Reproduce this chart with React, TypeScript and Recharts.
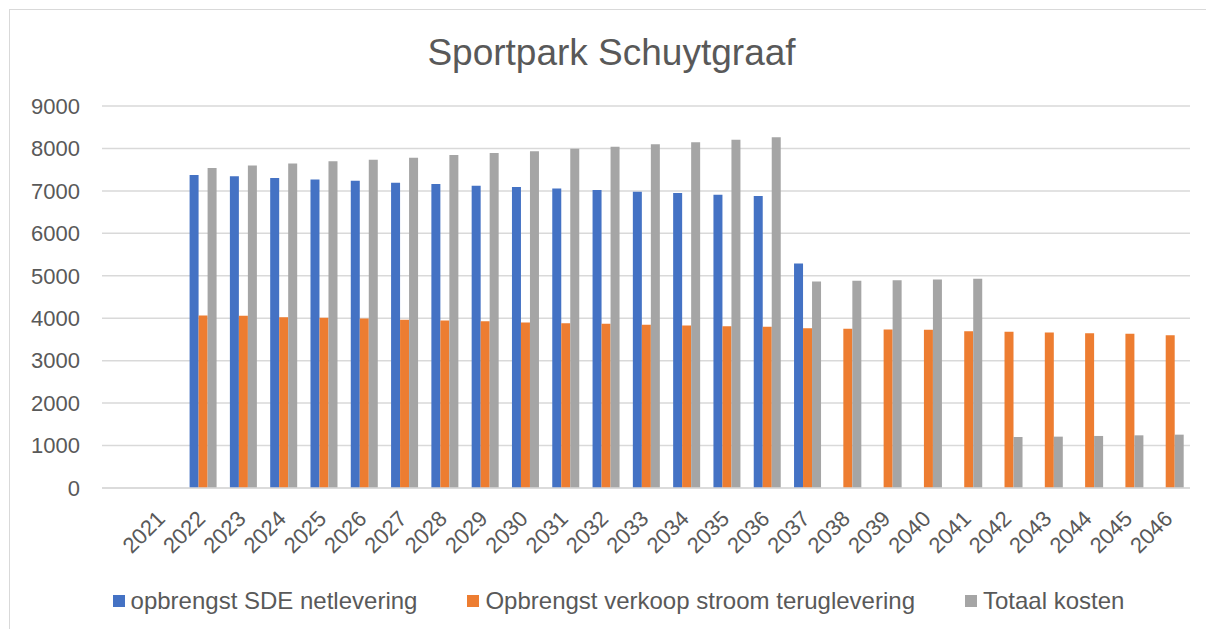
import React from "react";
import { BarChart, Bar, XAxis, YAxis, CartesianGrid, Legend } from "recharts";

const categories: string[] = ["", "2021", "2022", "2023", "2024", "2025", "2026", "2027", "2028", "2029", "2030", "2031", "2032", "2033", "2034", "2035", "2036", "2037", "2038", "2039", "2040", "2041", "2042", "2043", "2044", "2045", "2046"];

const sdeNetlevering: (number | null)[] = [null, 0, 7372, 7342, 7302, 7271, 7240, 7193, 7160, 7123, 7090, 7059, 7019, 6981, 6949, 6910, 6878, 5290, 0, 0, 0, 0, 0, 0, 0, 0, 0];
const verkoopStroom: (number | null)[] = [null, 0, 4064, 4056, 4024, 4009, 3993, 3962, 3946, 3930, 3899, 3883, 3868, 3844, 3828, 3812, 3797, 3765, 3750, 3734, 3726, 3694, 3679, 3663, 3647, 3632, 3600];
const totaalKosten: (number | null)[] = [null, 0, 7538, 7601, 7648, 7696, 7736, 7783, 7845, 7892, 7932, 7995, 8042, 8097, 8144, 8207, 8262, 4866, 4882, 4897, 4913, 4929, 1202, 1210, 1226, 1241, 1257];

const yTicks: number[] = [0, 1000, 2000, 3000, 4000, 5000, 6000, 7000, 8000, 9000];

const seriesNames = ["opbrengst SDE netlevering", "Opbrengst verkoop stroom teruglevering", "Totaal kosten"];
const colors = ["#4472C4", "#ED7D31", "#A5A5A5"];

const data = categories.map((c, i) => ({
  year: c,
  sde: sdeNetlevering[i],
  verkoop: verkoopStroom[i],
  kosten: totaalKosten[i],
}));

const FONT = "'Liberation Sans', Arial, Helvetica, sans-serif";
const TEXT = "#595959";
const GRID = "#d9d9d9";

const XTick = (props: any) => {
  const { x, y, payload } = props;
  if (!payload || !payload.value) return null;
  return (
    <g transform={`translate(${x},${y})`}>
      <text
        x={4}
        y={32}
        textAnchor="end"
        transform="rotate(-45, 4, 32)"
        fill={TEXT}
        fontSize={22}
        fontFamily={FONT}
      >
        {payload.value}
      </text>
    </g>
  );
};

const LegendContent = () => {
  return (
    <div
      style={{
        display: "flex",
        justifyContent: "center",
        alignItems: "center",
        width: 1205,
        paddingLeft: 14,
        boxSizing: "border-box",
        fontFamily: FONT,
        fontSize: 24,
        color: TEXT,
        lineHeight: "30px",
        gap: 50,
      }}
    >
      {seriesNames.map((name, i) => (
        <div key={i} style={{ display: "flex", alignItems: "center" }}>
          <span style={{ display: "inline-block", width: 12, height: 12, background: colors[i], marginRight: 6 }} />
          <span>{name}</span>
        </div>
      ))}
    </div>
  );
};

export default function App() {
  return (
    <div style={{ position: "relative", left: 1, top: 1, width: 1205, height: 621 }}>
      <div style={{ position: "absolute", left: 0, top: 0, width: 1205, height: 1, background: GRID }} />
      <div style={{ position: "absolute", left: 0, top: 0, width: 1, height: 621, background: GRID }} />
      <div
        style={{
          position: "absolute",
          left: 0,
          top: 22,
          width: 1205,
          textAlign: "center",
          fontFamily: FONT,
          fontSize: 37,
          color: TEXT,
          lineHeight: "44px",
          paddingLeft: 0,
        }}
      >
        Sportpark Schuytgraaf
      </div>
      <div style={{ position: "absolute", left: 0, top: 0 }}>
        <BarChart
          width={1205}
          height={621}
          data={data}
          margin={{ top: 97, right: 24, left: 0, bottom: 0 }}
          barGap={0}
          barSize={9}
        >
          <CartesianGrid vertical={false} stroke={GRID} strokeWidth={1.5} />
          <XAxis
            dataKey="year"
            height={142}
            interval={0}
            tickLine={false}
            tickSize={0}
            tickMargin={0}
            axisLine={{ stroke: GRID, strokeWidth: 1.5 }}
            tick={<XTick />}
          />
          <YAxis
            width={93}
            domain={[0, 9000]}
            ticks={yTicks}
            interval={0}
            axisLine={false}
            tickLine={false}
            tickSize={0}
            tickMargin={22}
            tick={{ fill: TEXT, fontSize: 22, fontFamily: FONT }}
          />
          <Legend
            layout="horizontal"
            verticalAlign="middle"
            align="center"
            wrapperStyle={{ position: "absolute", top: 577, left: 0, width: 1205 }}
            content={<LegendContent />}
          />
          <Bar dataKey="sde" name={seriesNames[0]} fill={colors[0]} isAnimationActive={false} />
          <Bar dataKey="verkoop" name={seriesNames[1]} fill={colors[1]} isAnimationActive={false} />
          <Bar dataKey="kosten" name={seriesNames[2]} fill={colors[2]} isAnimationActive={false} />
        </BarChart>
      </div>
    </div>
  );
}
